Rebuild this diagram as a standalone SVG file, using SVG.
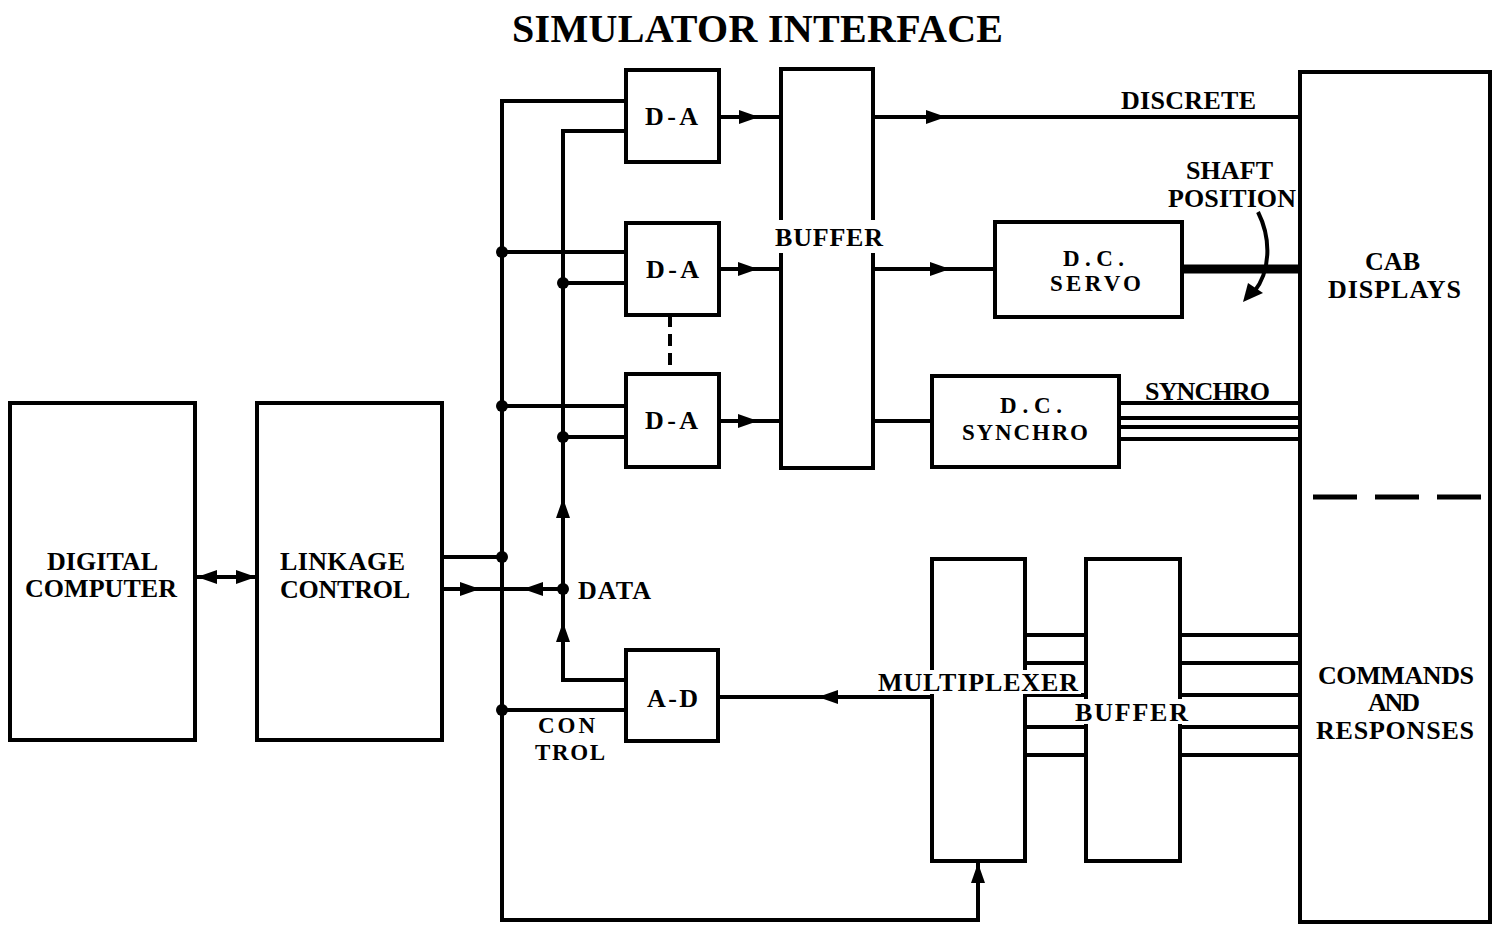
<svg xmlns="http://www.w3.org/2000/svg" xmlns:xlink="http://www.w3.org/1999/xlink" width="1499" height="927" viewBox="0 0 1499 927">
<style>
.box{fill:none;stroke:#000;stroke-width:4}
.ln{fill:none;stroke:#000;stroke-width:4}
.t{font-family:"Liberation Serif","DejaVu Serif",serif;font-weight:bold;font-size:26px;fill:#000}
.s{font-size:23px}
.bg{fill:#fff;stroke:none}
</style>
<defs>
<path id="ah" d="M-10,-7 L10,0 L-10,7 Z" fill="#000"/>
</defs>
<rect width="1499" height="927" fill="#fff"/>
<text class="t" x="512" y="42" style="font-size:40px" textLength="491" lengthAdjust="spacing">SIMULATOR INTERFACE</text>

<g id="connectors">
<line class="ln" x1="197" y1="577" x2="256" y2="577"/>
<use xlink:href="#ah" transform="translate(207,577) rotate(180)"/>
<use xlink:href="#ah" transform="translate(246,577)"/>
<polyline class="ln" points="626,101 502,101 502,920 978,920 978,862"/>
<use xlink:href="#ah" transform="translate(978,873) rotate(-90)"/>
<polyline class="ln" points="626,131 563,131 563,680 626,680"/>
<use xlink:href="#ah" transform="translate(563,508) rotate(-90)"/>
<use xlink:href="#ah" transform="translate(563,632) rotate(-90)"/>
<line class="ln" x1="502" y1="252" x2="626" y2="252"/>
<line class="ln" x1="563" y1="283" x2="626" y2="283"/>
<line class="ln" x1="502" y1="406" x2="626" y2="406"/>
<line class="ln" x1="563" y1="437" x2="626" y2="437"/>
<line class="ln" x1="443" y1="557" x2="502" y2="557"/>
<line class="ln" x1="443" y1="589" x2="563" y2="589"/>
<use xlink:href="#ah" transform="translate(470,589)"/>
<use xlink:href="#ah" transform="translate(533,589) rotate(180)"/>
<line class="ln" x1="502" y1="710" x2="626" y2="710"/>
<line class="ln" x1="719" y1="117" x2="781" y2="117"/>
<use xlink:href="#ah" transform="translate(749,117)"/>
<line class="ln" x1="719" y1="269" x2="781" y2="269"/>
<use xlink:href="#ah" transform="translate(748,269)"/>
<line class="ln" x1="719" y1="421" x2="781" y2="421"/>
<use xlink:href="#ah" transform="translate(748,421)"/>
<line class="ln" x1="670" y1="315" x2="670" y2="374" stroke-dasharray="12,7"/>
<line class="ln" x1="873" y1="117" x2="1300" y2="117"/>
<use xlink:href="#ah" transform="translate(936,117)"/>
<line class="ln" x1="873" y1="269" x2="995" y2="269"/>
<use xlink:href="#ah" transform="translate(940,269)"/>
<line class="ln" x1="873" y1="421" x2="932" y2="421"/>
<line x1="1182" y1="269" x2="1300" y2="269" stroke="#000" stroke-width="9"/>
<path class="ln" d="M1258,212 C1272,240 1270,272 1254,292" stroke-width="3"/>
<path d="M1243,302 L1248,283 L1263,293 Z" fill="#000"/>
<line class="ln" x1="1118" y1="403" x2="1300" y2="403" stroke-width="3.5"/>
<line class="ln" x1="1118" y1="418" x2="1300" y2="418" stroke-width="3.5"/>
<line class="ln" x1="1118" y1="427" x2="1300" y2="427" stroke-width="3"/>
<line class="ln" x1="1118" y1="439" x2="1300" y2="439" stroke-width="3.5"/>
<line class="ln" x1="718" y1="697" x2="932" y2="697"/>
<use xlink:href="#ah" transform="translate(828,697) rotate(180)"/>
<line class="ln" x1="1025" y1="635" x2="1086" y2="635"/>
<line class="ln" x1="1025" y1="663" x2="1086" y2="663"/>
<line class="ln" x1="1025" y1="695" x2="1086" y2="695"/>
<line class="ln" x1="1025" y1="727" x2="1086" y2="727"/>
<line class="ln" x1="1025" y1="755" x2="1086" y2="755"/>
<line class="ln" x1="1180" y1="635" x2="1300" y2="635"/>
<line class="ln" x1="1180" y1="663" x2="1300" y2="663"/>
<line class="ln" x1="1180" y1="695" x2="1300" y2="695"/>
<line class="ln" x1="1180" y1="727" x2="1300" y2="727"/>
<line class="ln" x1="1180" y1="755" x2="1300" y2="755"/>
<line x1="1313" y1="497" x2="1482" y2="497" stroke="#000" stroke-width="5" stroke-dasharray="44,18"/>
<circle cx="502" cy="252" r="6"/>
<circle cx="502" cy="406" r="6"/>
<circle cx="502" cy="557" r="6"/>
<circle cx="502" cy="710" r="6"/>
<circle cx="563" cy="283" r="6"/>
<circle cx="563" cy="437" r="6"/>
<circle cx="563" cy="589" r="6"/>
</g>

<g id="digital-computer">
<rect class="box" x="10" y="403" width="185" height="337"/>
<text class="t" x="47" y="570" textLength="111" lengthAdjust="spacing">DIGITAL</text>
<text class="t" x="25" y="597" textLength="152" lengthAdjust="spacing">COMPUTER</text>
</g>
<g id="linkage-control">
<rect class="box" x="257" y="403" width="185" height="337"/>
<text class="t" x="280" y="570" textLength="125" lengthAdjust="spacing">LINKAGE</text>
<text class="t" x="280" y="598" textLength="130" lengthAdjust="spacing">CONTROL</text>
</g>
<g id="da1">
<rect class="box" x="626" y="70" width="93" height="92"/>
<text class="t" x="645" y="125" textLength="53" lengthAdjust="spacing">D-A</text>
</g>
<g id="da2">
<rect class="box" x="626" y="223" width="93" height="92"/>
<text class="t" x="646" y="278" textLength="53" lengthAdjust="spacing">D-A</text>
</g>
<g id="da3">
<rect class="box" x="626" y="374" width="93" height="93"/>
<text class="t" x="645" y="429" textLength="53" lengthAdjust="spacing">D-A</text>
</g>
<g id="buffer-top">
<rect class="box" x="781" y="69" width="92" height="399"/>
<rect class="bg" x="772" y="220" width="114" height="33"/>
<text class="t" x="775" y="246" textLength="108" lengthAdjust="spacing">BUFFER</text>
</g>
<g id="dc-servo">
<rect class="box" x="995" y="222" width="187" height="95"/>
<text class="t s" x="1063" y="266" textLength="61" lengthAdjust="spacing">D.C.</text>
<text class="t s" x="1050" y="291" textLength="91" lengthAdjust="spacing">SERVO</text>
</g>
<g id="dc-synchro">
<rect class="box" x="932" y="376" width="187" height="91"/>
<text class="t s" x="1000" y="413" textLength="62" lengthAdjust="spacing">D.C.</text>
<text class="t s" x="962" y="440" textLength="126" lengthAdjust="spacing">SYNCHRO</text>
</g>
<g id="cab">
<rect class="box" x="1300" y="72" width="190" height="850"/>
<text class="t" x="1365" y="270" textLength="55" lengthAdjust="spacing">CAB</text>
<text class="t" x="1328" y="298" textLength="133" lengthAdjust="spacing">DISPLAYS</text>
<text class="t" x="1318" y="684" textLength="156" lengthAdjust="spacing">COMMANDS</text>
<text class="t" x="1368" y="711" textLength="52" lengthAdjust="spacing">AND</text>
<text class="t" x="1316" y="739" textLength="158" lengthAdjust="spacing">RESPONSES</text>
</g>
<g id="ad">
<rect class="box" x="626" y="650" width="92" height="91"/>
<text class="t" x="647" y="707" textLength="51" lengthAdjust="spacing">A-D</text>
</g>
<g id="multiplexer">
<rect class="box" x="932" y="559" width="93" height="302"/>
<rect class="bg" x="875" y="670" width="206" height="24"/>
<text class="t" x="878" y="691" textLength="200" lengthAdjust="spacing">MULTIPLEXER</text>
</g>
<g id="buffer-bottom">
<rect class="box" x="1086" y="559" width="94" height="302"/>
<rect class="bg" x="1073" y="699" width="117" height="25"/>
<text class="t" x="1075" y="721" textLength="113" lengthAdjust="spacing">BUFFER</text>
</g>
<g id="labels">
<text class="t" x="1121" y="109" textLength="135" lengthAdjust="spacing">DISCRETE</text>
<text class="t" x="1186" y="179" textLength="87" lengthAdjust="spacing">SHAFT</text>
<text class="t" x="1168" y="207" textLength="128" lengthAdjust="spacing">POSITION</text>
<text class="t" x="1145" y="400" textLength="125" lengthAdjust="spacing">SYNCHRO</text>
<text class="t" x="578" y="599" textLength="73" lengthAdjust="spacing">DATA</text>
<text class="t s" x="538" y="733" textLength="57" lengthAdjust="spacing">CON</text>
<text class="t s" x="535" y="760" textLength="70" lengthAdjust="spacing">TROL</text>
</g>
</svg>
